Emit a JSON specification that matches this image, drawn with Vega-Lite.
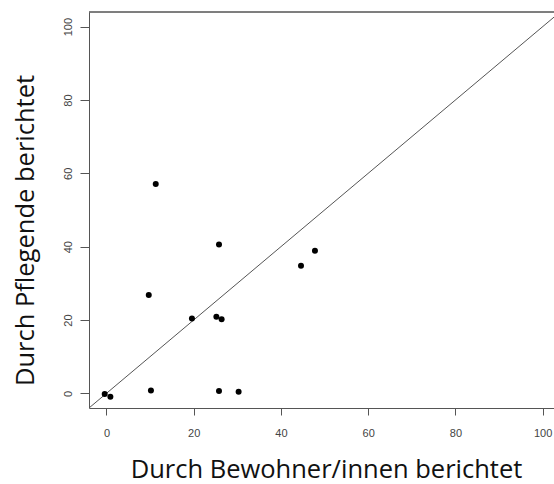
{
  "$schema": "https://vega.github.io/schema/vega-lite/v6.json",
  "autosize": "none",
  "width": 465,
  "height": 396,
  "padding": {"left": 89, "top": 12, "right": 0, "bottom": 76},
  "background": "white",
  "config": {
    "view": {"stroke": null},
    "axis": {"grid": false, "domainColor": "#555", "tickColor": "#555", "labelColor": "#444", "labelFont": "Liberation Sans", "labelFontSize": 11, "titleFont": "Open Sans", "titleFontWeight": "normal", "titleFontSize": 25.5, "titleColor": "#111"}
  },
  "datasets": {
    "pts": [
      {"res": -0.4, "pfl": -0.2},
      {"res": 0.9, "pfl": -0.9},
      {"res": 10.2, "pfl": 0.8},
      {"res": 9.7, "pfl": 26.8},
      {"res": 11.3, "pfl": 57.1},
      {"res": 19.6, "pfl": 20.4},
      {"res": 25.8, "pfl": 40.6},
      {"res": 25.2, "pfl": 20.9},
      {"res": 26.4, "pfl": 20.2},
      {"res": 25.8, "pfl": 0.65},
      {"res": 30.3, "pfl": 0.4},
      {"res": 44.6, "pfl": 34.8},
      {"res": 47.8, "pfl": 38.9}
    ],
    "diag": [
      {"res": -4, "pfl": -4},
      {"res": 104, "pfl": 104}
    ]
  },
  "layer": [
    {
      "data": {"name": "diag"},
      "mark": {"type": "line", "color": "#555", "strokeWidth": 1, "clip": true},
      "encoding": {
        "x": {"field": "res", "type": "quantitative", "scale": {"domain": [-4, 102.6], "nice": false, "zero": false},
          "axis": {"title": "Durch Bewohner/innen berichtet", "values": [0, 20, 40, 60, 80, 100], "tickSize": 7, "labelPadding": 12, "titleX": 237, "titleY": 69, "titleBaseline": "alphabetic", "titleAnchor": "middle", "titleAlign": "center"}},
        "y": {"field": "pfl", "type": "quantitative", "scale": {"domain": [-4, 104], "nice": false, "zero": false},
          "axis": {"title": "Durch Pflegende berichtet", "values": [0, 20, 40, 60, 80, 100], "tickSize": 9, "labelAngle": -90, "labelAlign": "center", "labelBaseline": "bottom", "labelPadding": 7, "titleX": -56, "titleY": 218, "titleAngle": -90, "titleBaseline": "alphabetic", "titleAlign": "center", "titleAnchor": "middle"}}
      }
    },
    {
      "data": {"name": "pts"},
      "mark": {"type": "point", "filled": true, "color": "black", "size": 36, "opacity": 1},
      "encoding": {
        "x": {"field": "res", "type": "quantitative"},
        "y": {"field": "pfl", "type": "quantitative"}
      }
    },
    {
      "data": {"name": "diag"},
      "mark": {"type": "rule", "color": "#555", "strokeWidth": 1},
      "encoding": {
        "y": {"datum": 104},
        "x": {"datum": -4},
        "x2": {"datum": 102.6}
      }
    }
  ]
}
